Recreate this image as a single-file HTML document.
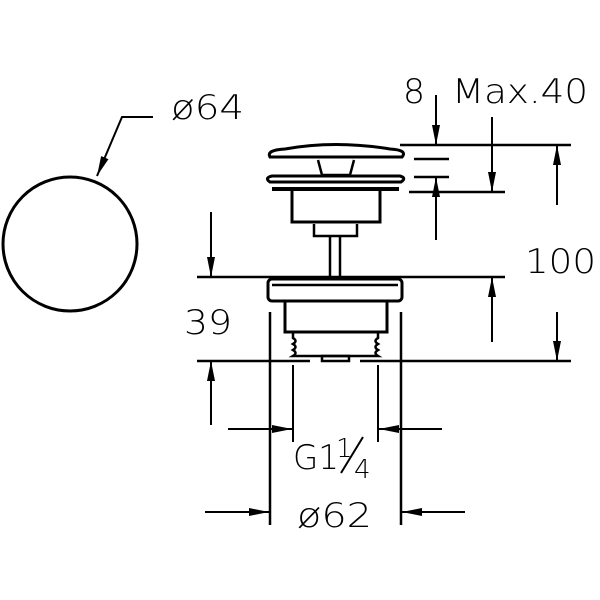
<!DOCTYPE html>
<html><head><meta charset="utf-8"><style>html,body{margin:0;padding:0;background:#fff}svg{display:block}</style></head>
<body>
<svg width="600" height="600" viewBox="0 0 600 600" xmlns="http://www.w3.org/2000/svg" font-family="DejaVu Sans, Liberation Sans, sans-serif">
<defs>
<marker id="a" viewBox="0 0 10 10" refX="10" refY="5" markerWidth="20" markerHeight="8" markerUnits="userSpaceOnUse" orient="auto" preserveAspectRatio="none"><path d="M0,0 L10,5 L0,10 z" fill="#000"/></marker>
</defs>
<g fill="none" stroke="#000">
<circle cx="70" cy="244" r="67" stroke-width="3"/>
<polyline points="153,117 122,117 97,176" stroke-width="2" marker-end="url(#a)"/>

<path d="M270,157 Q266,150 285,149 Q335,140 390,149 Q408,150 402,157 Z" stroke-width="3"/>
<path d="M318,160 L322,175 L350,175 L354,160" stroke-width="2.5"/>
<path d="M270,182 Q264,178 272,176 L400,176 Q407,178 401,182 Z" stroke-width="3"/>
<line x1="272" y1="189" x2="399" y2="189" stroke-width="4"/>
<path d="M292,190 L292,222 L380,222 L380,190" stroke-width="3"/>
<path d="M314,224 L314,236 L357,236 L357,224" stroke-width="2.5"/>
<line x1="330" y1="237" x2="330" y2="277" stroke-width="2.5"/>
<line x1="340" y1="237" x2="340" y2="277" stroke-width="2.5"/>
<rect x="268" y="279" width="134" height="22" rx="4" stroke-width="3"/>
<line x1="272" y1="285" x2="398" y2="285" stroke-width="2.5"/>
<path d="M285,302 L285,332 L387,332 L387,302" stroke-width="3"/>
<path d="M293,333 L293,338 Q298,341 293,344 Q298,347 293,350 Q298,353 293,356 L378,356 Q373,353 378,350 Q373,347 378,344 Q373,341 378,338 L378,333" stroke-width="2.5"/>
<rect x="322" y="356" width="27" height="5" stroke-width="2.5"/>

<line x1="400" y1="145" x2="571" y2="145" stroke-width="2.5"/>
<line x1="414" y1="159" x2="449" y2="159" stroke-width="2.5"/>
<line x1="414" y1="177" x2="449" y2="177" stroke-width="2.5"/>
<line x1="409" y1="192" x2="505" y2="192" stroke-width="2.5"/>
<line x1="197" y1="277" x2="505" y2="277" stroke-width="2.5"/>
<line x1="197" y1="361" x2="310" y2="361" stroke-width="2.5"/>
<line x1="360" y1="361" x2="571" y2="361" stroke-width="2.5"/>

<line x1="270" y1="312" x2="270" y2="525" stroke-width="2.5"/>
<line x1="401" y1="312" x2="401" y2="525" stroke-width="2.5"/>
<line x1="293" y1="365" x2="293" y2="442" stroke-width="2"/>
<line x1="378" y1="365" x2="378" y2="442" stroke-width="2"/>

<g stroke-width="2">
<line x1="436" y1="95" x2="436" y2="145" marker-end="url(#a)"/>
<line x1="436" y1="240" x2="436" y2="177" marker-end="url(#a)"/>
<line x1="492" y1="117" x2="492" y2="192" marker-end="url(#a)"/>
<line x1="557" y1="205" x2="557" y2="145" marker-end="url(#a)"/>
<line x1="492" y1="342" x2="492" y2="277" marker-end="url(#a)"/>
<line x1="557" y1="312" x2="557" y2="361" marker-end="url(#a)"/>
<line x1="211" y1="212" x2="211" y2="277" marker-end="url(#a)"/>
<line x1="211" y1="425" x2="211" y2="361" marker-end="url(#a)"/>
<line x1="228" y1="429" x2="292" y2="429" marker-end="url(#a)"/>
<line x1="442" y1="429" x2="379" y2="429" marker-end="url(#a)"/>
<line x1="205" y1="512" x2="269" y2="512" marker-end="url(#a)"/>
<line x1="465" y1="512" x2="402" y2="512" marker-end="url(#a)"/>
</g>
</g>

<g fill="#000" font-size="34" font-weight="200">
<text x="171" y="119" textLength="73" lengthAdjust="spacingAndGlyphs">ø64</text>
<text x="403" y="103" textLength="22" lengthAdjust="spacingAndGlyphs">8</text>
<text x="452" y="103" textLength="136" lengthAdjust="spacingAndGlyphs">Max.40</text>
<text x="525" y="273" textLength="71" lengthAdjust="spacingAndGlyphs">100</text>
<text x="184" y="334" textLength="48" lengthAdjust="spacingAndGlyphs">39</text>
<text x="293" y="469" textLength="46" lengthAdjust="spacingAndGlyphs">G1</text>
<line x1="341" y1="473" x2="363" y2="437" stroke="#000" stroke-width="2"/>
<text x="336" y="457" font-size="26">1</text>
<text x="354" y="478" font-size="26">4</text>
<text x="297" y="527" textLength="75" lengthAdjust="spacingAndGlyphs">ø62</text>
</g>
</svg>
</body></html>
